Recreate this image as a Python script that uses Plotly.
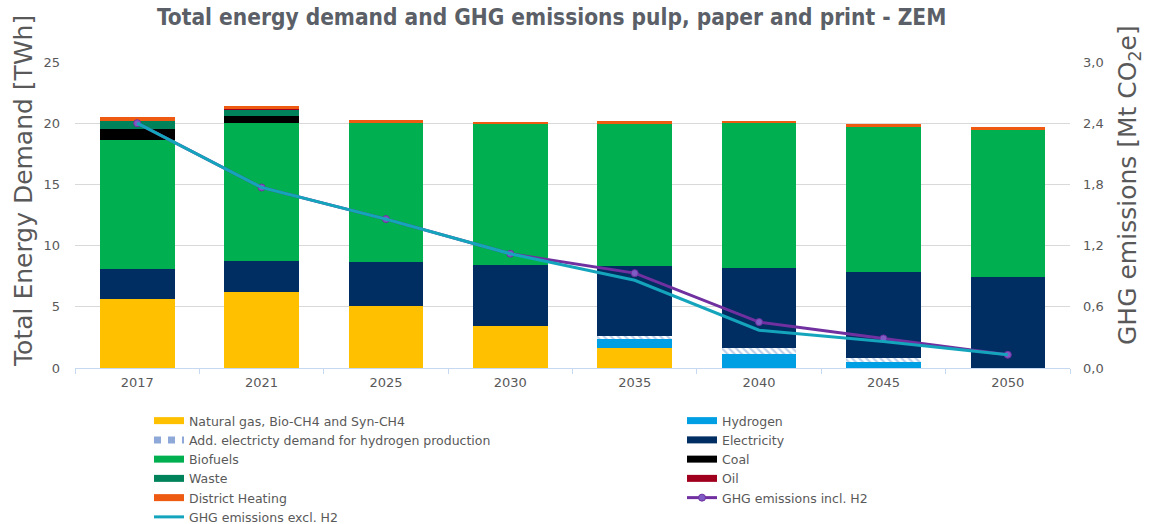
import plotly.graph_objects as go

years = ["2017", "2021", "2025", "2030", "2035", "2040", "2045", "2050"]

natural_gas = [5.66, 6.21, 5.07, 3.43, 1.66, 0.0, 0.0, 0.0]
hydrogen = [0.0, 0.0, 0.0, 0.0, 0.68, 1.12, 0.51, 0.0]
add_elec_h2 = [0.0, 0.0, 0.0, 0.0, 0.27, 0.49, 0.28, 0.0]
electricity = [2.43, 2.51, 3.59, 4.98, 5.75, 6.59, 7.05, 7.46]
biofuels = [10.56, 11.30, 11.34, 11.49, 11.59, 11.80, 11.86, 11.99]
coal = [0.88, 0.58, 0.0, 0.0, 0.0, 0.0, 0.0, 0.0]
waste = [0.67, 0.53, 0.0, 0.0, 0.0, 0.0, 0.0, 0.0]
oil = [0.02, 0.02, 0.0, 0.0, 0.0, 0.0, 0.0, 0.0]
district_heating = [0.28, 0.27, 0.26, 0.20, 0.25, 0.20, 0.23, 0.25]

ghg_incl_h2 = [2.40, 1.77, 1.46, 1.12, 0.93, 0.45, 0.29, 0.13]
ghg_excl_h2 = [2.40, 1.77, 1.46, 1.12, 0.86, 0.37, 0.26, 0.13]

left_ticks = [0, 5, 10, 15, 20, 25]
right_ticks = [0, 0.6, 1.2, 1.8, 2.4, 3.0]

W, H = 1149, 524
L, R, T, B = 75, 79, 62, 156

C_NG = "#FFC000"
C_H2 = "#009FE3"
C_HATCH = "#8EA9D8"
C_EL = "#002D62"
C_BIO = "#00B050"
C_COAL = "#000000"
C_WASTE = "#00835A"
C_OIL = "#A0001E"
C_DH = "#EE5A12"
C_INCL = "#7030A0"
C_EXCL = "#14A5BD"
GREY = "#595959"
FONT = "DejaVu Sans"

fig = go.Figure()

bar_series = [
    ("Natural gas, Bio-CH4 and Syn-CH4", natural_gas, C_NG, "legend"),
    ("Hydrogen", hydrogen, C_H2, "legend2"),
    ("Add. electricty demand for hydrogen production", add_elec_h2, C_HATCH, "legend"),
    ("Electricity", electricity, C_EL, "legend2"),
    ("Biofuels", biofuels, C_BIO, "legend"),
    ("Coal", coal, C_COAL, "legend2"),
    ("Waste", waste, C_WASTE, "legend"),
    ("Oil", oil, C_OIL, "legend2"),
    ("District Heating", district_heating, C_DH, "legend"),
]

for name, vals, col, lg in bar_series:
    if name.startswith("Add."):
        marker = dict(color="white", pattern=dict(shape="\\", fgcolor="#7f9fd0",
                                                  size=5, solidity=0.45, fillmode="overlay"),
                      line=dict(width=0))
    else:
        marker = dict(color=col, line=dict(width=0))
    fig.add_trace(go.Bar(x=years, y=vals, name=name, marker=marker, width=0.6,
                         showlegend=False, yaxis="y"))

# legend entries (wide rectangles like the original)
for name, vals, col, lg in bar_series:
    dash = "dot" if name.startswith("Add.") else "solid"
    fig.add_trace(go.Scatter(x=[None], y=[None], mode="lines", name=name,
                             line=dict(color=col, width=7, dash=dash),
                             legend=lg, hoverinfo="skip"))

fig.add_trace(go.Scatter(x=years, y=ghg_incl_h2, name="GHG emissions incl. H2",
                         mode="lines+markers", yaxis="y2", legend="legend2",
                         line=dict(color=C_INCL, width=3),
                         marker=dict(symbol="circle", size=7, color="#7E5CC4",
                                     line=dict(color=C_INCL, width=1))))
fig.add_trace(go.Scatter(x=years, y=ghg_excl_h2, name="GHG emissions excl. H2",
                         mode="lines", yaxis="y2", legend="legend",
                         line=dict(color=C_EXCL, width=3)))

legend_common = dict(orientation="v", font=dict(family=FONT, size=12.5, color=GREY),
                     bgcolor="rgba(0,0,0,0)", tracegroupgap=0, itemwidth=30,
                     xref="container", yref="container", xanchor="left", yanchor="top")

fig.update_layout(
    width=W, height=H,
    margin=dict(l=L, r=R, t=T, b=B, autoexpand=False),
    paper_bgcolor="white", plot_bgcolor="white",
    separators=",.",
    barmode="stack",
    bargap=0.4,
    title=dict(text="<b>Total energy demand and GHG emissions pulp, paper and print - ZEM</b>",
               font=dict(family="DejaVu Sans Condensed, Liberation Sans Narrow, DejaVu Sans",
                         size=22.5, color="#5B5F67"),
               xref="container", yref="container", x=157 / W, xanchor="left",
               y=1 - 17 / H, yanchor="middle"),
    xaxis=dict(type="category", categoryorder="array", categoryarray=years,
               showgrid=False, showline=True, linecolor="#C6D9F1", linewidth=1,
               ticks="outside", tickson="boundaries", ticklen=5, tickcolor="#C6D9F1",
               tickangle=0, ticklabelstandoff=2,
               tickfont=dict(family=FONT, size=13, color=GREY)),
    yaxis=dict(range=[0, 25], tickvals=left_ticks, showgrid=True, gridcolor="#D9D9D9",
               gridwidth=1, zeroline=False, showline=False, ticks="",
               ticklabelstandoff=14,
               tickfont=dict(family=FONT, size=13, color=GREY)),
    yaxis2=dict(range=[0, 3.0], tickvals=right_ticks, tickformat=".1f", overlaying="y",
                side="right", showgrid=False, zeroline=False, showline=False, ticks="",
                ticklabelstandoff=12,
                tickfont=dict(family=FONT, size=13, color=GREY)),
    legend=dict(x=149 / W, y=1 - 406 / H, traceorder="normal", **legend_common),
    legend2=dict(x=682 / W, y=1 - 406 / H, traceorder="normal", **legend_common),
    showlegend=True,
)

fig.add_annotation(text="Total Energy Demand [TWh]", textangle=-90,
                   xref="paper", yref="paper", x=(24 - L) / (W - L - R), y=-0.003,
                   xanchor="center", yanchor="bottom", showarrow=False,
                   font=dict(family=FONT, size=25, color=GREY))
fig.add_annotation(text="GHG emissions [Mt CO<sub>2</sub>e]", textangle=-90,
                   xref="paper", yref="paper", x=(1129 - L) / (W - L - R),
                   y=(368 - 347) / (H - T - B),
                   xanchor="center", yanchor="bottom", showarrow=False,
                   font=dict(family=FONT, size=25, color=GREY))

fig.write_html("out.html")
